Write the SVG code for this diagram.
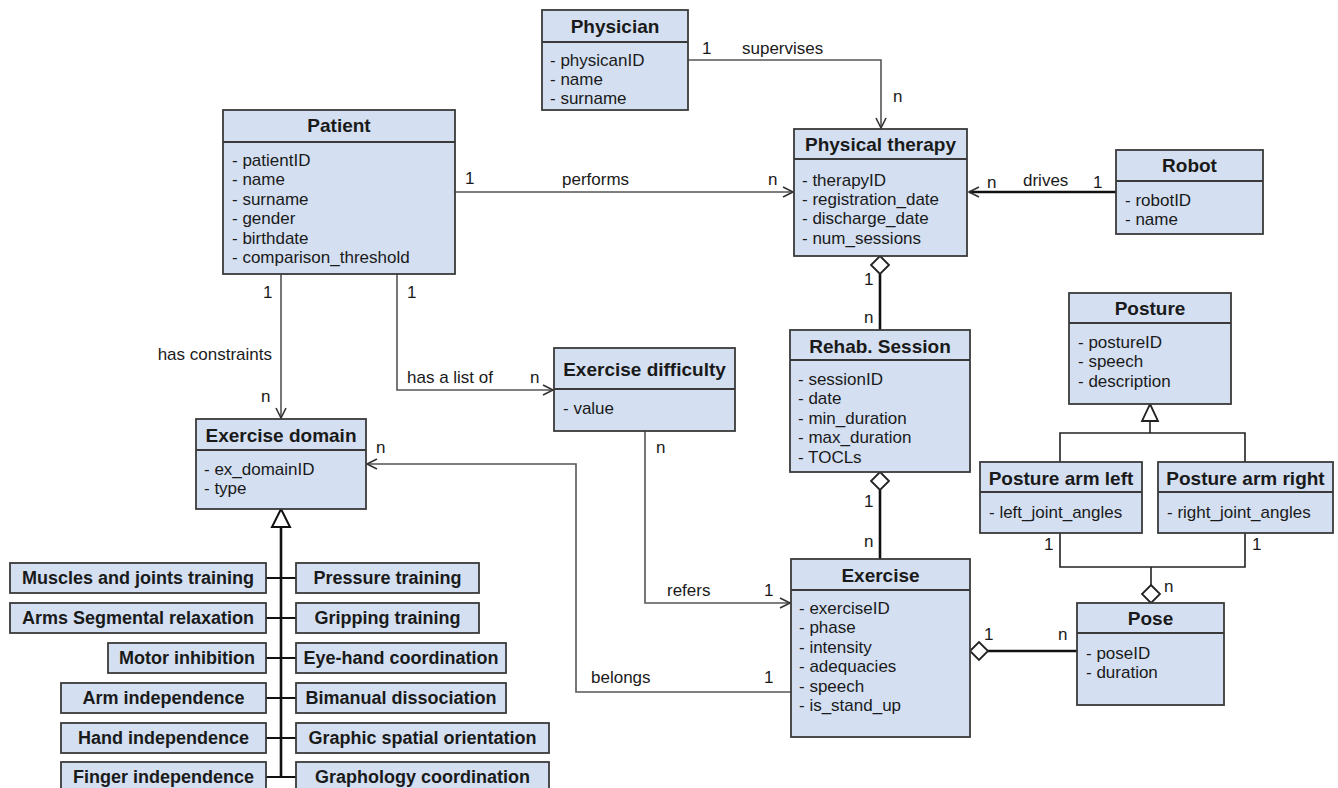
<svg xmlns="http://www.w3.org/2000/svg" width="1338" height="788" viewBox="0 0 1338 788">
<defs>
<style>
.box{fill:#d4e0f2;stroke:#3a3a3a;stroke-width:1.8}
.sep{stroke:#3a3a3a;stroke-width:1.8}
.t{font-family:"Liberation Sans",Arial,sans-serif;font-weight:bold;font-size:19px;fill:#1a1a1a;text-anchor:middle}
.s{font-family:"Liberation Sans",Arial,sans-serif;font-weight:bold;font-size:18px;fill:#1a1a1a;text-anchor:middle}
.a{font-family:"Liberation Sans",Arial,sans-serif;font-size:17px;fill:#1a1a1a}
.l{font-family:"Liberation Sans",Arial,sans-serif;font-size:17px;fill:#1a1a1a}
.thin{fill:none;stroke:#555;stroke-width:1.6}
.thick{fill:none;stroke:#111;stroke-width:2.6}
.dia{fill:#fff;stroke:#222;stroke-width:1.8}
</style>
<marker id="arr" markerWidth="14" markerHeight="14" refX="11" refY="6" orient="auto" markerUnits="userSpaceOnUse">
<path d="M1,1 L11,6 L1,11" fill="none" stroke="#333" stroke-width="1.6"/>
</marker>
</defs>
<rect width="1338" height="788" fill="#fff"/>

<g id="connectors">
<polyline class="thin" points="688,60 881,60 881,128" marker-end="url(#arr)"/>
<polyline class="thin" points="455,192 793,192" marker-end="url(#arr)"/>
<polyline class="thick" points="1116,192 969,192" marker-end="url(#arr)"/>
<polyline class="thin" points="281,274 281,418" marker-end="url(#arr)"/>
<polyline class="thin" points="397,274 397,390 553,390" marker-end="url(#arr)"/>
<line class="thick" x1="880" y1="274" x2="880" y2="330"/>
<polygon class="dia" points="880,256 889,265 880,274 871,265"/>
<line class="thick" x1="880" y1="490" x2="880" y2="559"/>
<polygon class="dia" points="880,472 889,481 880,490 871,481"/>
<polyline class="thin" points="645,431 645,603 790,603" marker-end="url(#arr)"/>
<polyline class="thin" points="791,692 576,692 576,464 367,464" marker-end="url(#arr)"/>
<line class="thick" x1="988" y1="651" x2="1077" y2="651"/>
<polygon class="dia" points="970,651 979,642 988,651 979,660"/>
<line class="thick" x1="281" y1="527" x2="281" y2="777"/>
<polygon points="281,509 290,527 272,527" fill="#fff" stroke="#111" stroke-width="2"/>
<g class="thick" style="stroke-width:2">
<line x1="266" y1="578" x2="296" y2="578"/>
<line x1="266" y1="618" x2="296" y2="618"/>
<line x1="266" y1="658" x2="296" y2="658"/>
<line x1="266" y1="698" x2="296" y2="698"/>
<line x1="266" y1="738" x2="296" y2="738"/>
<line x1="266" y1="777" x2="296" y2="777"/>
</g>
<polyline class="thin" style="stroke:#222" points="1150,421 1150,433"/>
<polyline class="thin" style="stroke:#222" points="1060,462 1060,433 1245,433 1245,462"/>
<polygon points="1150,404 1158,421 1142,421" fill="#fff" stroke="#222" stroke-width="1.8"/>
<polyline class="thin" style="stroke:#222" points="1060,533 1060,567 1245,567 1245,533"/>
<line class="thin" style="stroke:#222" x1="1151" y1="567" x2="1151" y2="585"/>
<polygon class="dia" points="1151,585 1160,594 1151,603 1142,594"/>

<text class="l" x="702" y="54">1</text>
<text class="l" x="742" y="54">supervises</text>
<text class="l" x="893" y="102">n</text>
<text class="l" x="465" y="184">1</text>
<text class="l" x="562" y="185">performs</text>
<text class="l" x="768" y="185">n</text>
<text class="l" x="987" y="188">n</text>
<text class="l" x="1023" y="186">drives</text>
<text class="l" x="1093" y="188">1</text>
<text class="l" x="263" y="298">1</text>
<text class="l" x="407" y="298">1</text>
<text class="l" x="272" y="360" text-anchor="end">has constraints</text>
<text class="l" x="261" y="402">n</text>
<text class="l" x="407" y="383">has a list of</text>
<text class="l" x="530" y="383">n</text>
<text class="l" x="864" y="285">1</text>
<text class="l" x="864" y="323">n</text>
<text class="l" x="864" y="507">1</text>
<text class="l" x="864" y="547">n</text>
<text class="l" x="656" y="453">n</text>
<text class="l" x="667" y="596">refers</text>
<text class="l" x="764" y="596">1</text>
<text class="l" x="376" y="453">n</text>
<text class="l" x="591" y="683">belongs</text>
<text class="l" x="764" y="683">1</text>
<text class="l" x="984" y="640">1</text>
<text class="l" x="1058" y="640">n</text>
<text class="l" x="1164" y="592">n</text>
<text class="l" x="1044" y="550">1</text>
<text class="l" x="1252" y="550">1</text>
</g>

<g id="physician">
<rect class="box" x="542" y="10" width="146" height="100"/>
<line class="sep" x1="542" y1="42" x2="688" y2="42"/>
<text class="t" x="615" y="33">Physician</text>
<text class="a" x="550" y="66">- physicanID</text>
<text class="a" x="550" y="85">- name</text>
<text class="a" x="550" y="104">- surname</text>
</g>

<g id="patient">
<rect class="box" x="223" y="110" width="232" height="164"/>
<line class="sep" x1="223" y1="142" x2="455" y2="142"/>
<text class="t" x="339" y="132">Patient</text>
<text class="a" x="232" y="166">- patientID</text>
<text class="a" x="232" y="185">- name</text>
<text class="a" x="232" y="205">- surname</text>
<text class="a" x="232" y="224">- gender</text>
<text class="a" x="232" y="244">- birthdate</text>
<text class="a" x="232" y="263">- comparison_threshold</text>
</g>

<g id="physical-therapy">
<rect class="box" x="794" y="129" width="173" height="127"/>
<line class="sep" x1="794" y1="159" x2="967" y2="159"/>
<text class="t" x="880.5" y="151">Physical therapy</text>
<text class="a" x="802" y="186">- therapyID</text>
<text class="a" x="802" y="205">- registration_date</text>
<text class="a" x="802" y="224">- discharge_date</text>
<text class="a" x="802" y="244">- num_sessions</text>
</g>

<g id="robot">
<rect class="box" x="1116" y="150" width="147" height="84"/>
<line class="sep" x1="1116" y1="181" x2="1263" y2="181"/>
<text class="t" x="1189.5" y="172">Robot</text>
<text class="a" x="1125" y="206">- robotID</text>
<text class="a" x="1125" y="225">- name</text>
</g>

<g id="posture">
<rect class="box" x="1069" y="293" width="162" height="111"/>
<line class="sep" x1="1069" y1="323" x2="1231" y2="323"/>
<text class="t" x="1150" y="315">Posture</text>
<text class="a" x="1078" y="348">- postureID</text>
<text class="a" x="1078" y="367">- speech</text>
<text class="a" x="1078" y="387">- description</text>
</g>

<g id="posture-arm-left">
<rect class="box" x="980" y="462" width="162" height="71"/>
<line class="sep" x1="980" y1="492" x2="1142" y2="492"/>
<text class="t" x="1061" y="485">Posture arm left</text>
<text class="a" x="989" y="518">- left_joint_angles</text>
</g>

<g id="posture-arm-right">
<rect class="box" x="1158" y="462" width="175" height="71"/>
<line class="sep" x1="1158" y1="492" x2="1333" y2="492"/>
<text class="t" x="1245.5" y="485">Posture arm right</text>
<text class="a" x="1167" y="518">- right_joint_angles</text>
</g>

<g id="pose">
<rect class="box" x="1077" y="603" width="147" height="102"/>
<line class="sep" x1="1077" y1="633" x2="1224" y2="633"/>
<text class="t" x="1150.5" y="625">Pose</text>
<text class="a" x="1086" y="659">- poseID</text>
<text class="a" x="1086" y="678">- duration</text>
</g>

<g id="rehab-session">
<rect class="box" x="790" y="330" width="180" height="142"/>
<line class="sep" x1="790" y1="360" x2="970" y2="360"/>
<text class="t" x="880" y="353">Rehab. Session</text>
<text class="a" x="798" y="385">- sessionID</text>
<text class="a" x="798" y="404">- date</text>
<text class="a" x="798" y="424">- min_duration</text>
<text class="a" x="798" y="443">- max_duration</text>
<text class="a" x="798" y="463">- TOCLs</text>
</g>

<g id="exercise-difficulty">
<rect class="box" x="554" y="348" width="181" height="83"/>
<line class="sep" x1="554" y1="389" x2="735" y2="389"/>
<text class="t" x="644.5" y="376">Exercise difficulty</text>
<text class="a" x="563" y="414">- value</text>
</g>

<g id="exercise">
<rect class="box" x="791" y="559" width="179" height="178"/>
<line class="sep" x1="791" y1="590" x2="970" y2="590"/>
<text class="t" x="880.5" y="582">Exercise</text>
<text class="a" x="799" y="614">- exerciseID</text>
<text class="a" x="799" y="633">- phase</text>
<text class="a" x="799" y="653">- intensity</text>
<text class="a" x="799" y="672">- adequacies</text>
<text class="a" x="799" y="692">- speech</text>
<text class="a" x="799" y="711">- is_stand_up</text>
</g>

<g id="exercise-domain">
<rect class="box" x="196" y="419" width="170" height="90"/>
<line class="sep" x1="196" y1="450" x2="366" y2="450"/>
<text class="t" x="281" y="442">Exercise domain</text>
<text class="a" x="204" y="475">- ex_domainID</text>
<text class="a" x="204" y="494">- type</text>
</g>

<g id="muscles-joints"><rect class="box" x="10" y="563" width="256" height="30"/><text class="s" x="138" y="584">Muscles and joints training</text></g>
<g id="pressure"><rect class="box" x="296" y="563" width="183" height="30"/><text class="s" x="387.5" y="584">Pressure training</text></g>
<g id="arms-segmental"><rect class="box" x="10" y="603" width="256" height="30"/><text class="s" x="138" y="624">Arms Segmental relaxation</text></g>
<g id="gripping"><rect class="box" x="296" y="603" width="183" height="30"/><text class="s" x="387.5" y="624">Gripping training</text></g>
<g id="motor-inhibition"><rect class="box" x="108" y="643" width="158" height="30"/><text class="s" x="187" y="664">Motor inhibition</text></g>
<g id="eye-hand"><rect class="box" x="296" y="643" width="210" height="30"/><text class="s" x="401" y="664">Eye-hand coordination</text></g>
<g id="arm-independence"><rect class="box" x="61" y="683" width="205" height="30"/><text class="s" x="163.5" y="704">Arm independence</text></g>
<g id="bimanual"><rect class="box" x="296" y="683" width="210" height="30"/><text class="s" x="401" y="704">Bimanual dissociation</text></g>
<g id="hand-independence"><rect class="box" x="61" y="723" width="205" height="30"/><text class="s" x="163.5" y="744">Hand independence</text></g>
<g id="graphic-spatial"><rect class="box" x="296" y="723" width="253" height="30"/><text class="s" x="422.5" y="744">Graphic spatial orientation</text></g>
<g id="finger-independence"><rect class="box" x="61" y="762" width="205" height="30"/><text class="s" x="163.5" y="783">Finger independence</text></g>
<g id="graphology"><rect class="box" x="296" y="762" width="253" height="30"/><text class="s" x="422.5" y="783">Graphology coordination</text></g>
</svg>
